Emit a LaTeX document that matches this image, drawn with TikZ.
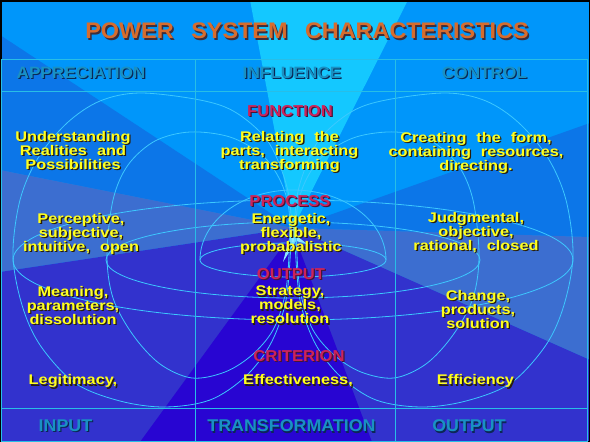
\documentclass[tikz,border=0pt]{standalone}
\usepackage{fontspec}
\setmainfont{Liberation Sans}
\newfontfamily\bodyf{Liberation Sans}[FakeStretch=1.165,WordSpace=2.2]
\newfontfamily\headf{Liberation Sans}[FakeStretch=1.05]
\newfontfamily\titf{Liberation Sans}[FakeStretch=1.04,WordSpace=2.7]
\definecolor{bgtop}{RGB}{0,150,250}
\definecolor{bgwedge}{RGB}{20,200,255}
\definecolor{bglight}{RGB}{140,230,255}
\definecolor{bgmed}{RGB}{12,118,232}
\definecolor{bgsteel}{RGB}{60,110,208}
\definecolor{bgind}{RGB}{50,50,205}
\definecolor{bgdark}{RGB}{40,5,210}
\definecolor{curvec}{RGB}{60,200,255}
\definecolor{gridc}{RGB}{40,190,230}
\definecolor{ytext}{RGB}{255,255,30}
\definecolor{yshad}{RGB}{40,30,10}
\definecolor{htext}{RGB}{25,145,195}
\definecolor{hshad}{RGB}{10,40,85}
\definecolor{ctext}{RGB}{205,35,90}
\definecolor{cshad}{RGB}{70,20,55}
\definecolor{ttext}{RGB}{215,108,45}
\definecolor{tshad}{RGB}{60,45,60}
\tikzset{
  body/.style={inner sep=0pt, align=center, font=\bodyf\bfseries\fontsize{14}{14}\selectfont, text=ytext},
  bodysh/.style={body, text=yshad, xshift=1.3pt, yshift=-1.3pt},
  head/.style={inner sep=0pt, font=\headf\bfseries\fontsize{16.4}{18}\selectfont, text=htext},
  headsh/.style={head, text=hshad, xshift=1.2pt, yshift=-1.2pt},
  foot/.style={inner sep=0pt, font=\headf\bfseries\fontsize{17}{18}\selectfont, text=htext},
  footsh/.style={foot, text=hshad, xshift=1.2pt, yshift=-1.2pt},
  lab/.style={inner sep=0pt, font=\headf\bfseries\fontsize{15.8}{18}\selectfont, text=ctext},
  labsh/.style={lab, text=cshad, xshift=1.2pt, yshift=-1.2pt},
  ttl/.style={inner sep=0pt, font=\titf\bfseries\fontsize{22.5}{24}\selectfont, text=ttext},
  ttlsh/.style={ttl, text=tshad, xshift=1.6pt, yshift=-1.6pt},
  loopline/.style={draw=curvec, line width=0.8pt},
  gridline/.style={draw=gridc, line width=1pt},
}
\newcommand\stx[5]{\node[#4] (#1sh) at (#2) {#5}; \node[#3] (#1) at (#2) {#5};}
\begin{document}
\begin{tikzpicture}[x=1pt,y=-1pt]
\useasboundingbox (0,0) rectangle (590,442);
% background rays
\fill[bgtop] (0,0) rectangle (590,442);
\fill[bgmed] (293,228) -- (0,35) -- (0,170) -- cycle;
\fill[bgsteel] (293,228) -- (0,170) -- (0,272) -- cycle;
\fill[bgmed] (293,228) -- (590,123) -- (590,237) -- cycle;
\fill[bgsteel] (293,228) -- (590,237) -- (590,360) -- cycle;
\fill[bgind] (293,228) -- (0,272) -- (0,442) -- (590,442) -- (590,360) -- cycle;
\fill[bgdark] (293,232) -- (140,442) -- (372,442) -- cycle;
\fill[bgwedge] (293,228) -- (250,0) -- (408,0) -- cycle;
\fill[bglight] (293,224) -- (297,236) -- (307,244) -- (296,241) -- (283,262) -- (289,239) -- cycle;
% loops
\newcommand\loops{%
  \draw[loopline] plot[smooth cycle, tension=0.55] coordinates {(291,215) (285,180) (267,140) (235,112) (200,100) (140,93) (100,101) (67,123) (38,158) (20,200) (13,255) (22,305) (40,345) (75,383) (120,401) (165,407) (210,400) (245,377) (270,345) (285,305) (290,260)};
  \draw[loopline] plot[smooth cycle, tension=0.55] coordinates {(289,210) (280,180) (262,155) (230,137) (190,132) (155,141) (128,165) (113,200) (107,255) (113,298) (133,335) (160,364) (192,378) (225,372) (252,355) (273,330) (285,295) (289,255)};
}
\loops
\begin{scope}[xshift=586pt, xscale=-1]
\loops
\end{scope}
\draw[loopline] (293,260) ellipse [x radius=280, y radius=60];
\draw[loopline] (293,260) ellipse [x radius=187, y radius=38];
\draw[loopline] (293,260) ellipse [x radius=93, y radius=17];
\draw[loopline] (200,260) arc [start angle=180, end angle=360, x radius=93, y radius=70];
% frame
\draw[black, line width=1.5pt] (0.75,0.75) rectangle (589.25,441.25);
\draw[gridline] (1.5,59) rectangle (587.5,441);
\draw[gridline] (1.5,91) -- (587.5,91);
\draw[gridline] (1.5,408) -- (587.5,408);
\draw[gridline] (195,59) -- (195,441);
\draw[gridline] (395,59) -- (395,441);
% title
\stx{title}{307,31}{ttl}{ttlsh}{POWER SYSTEM CHARACTERISTICS}
% headers
\stx{appr}{81,73}{head}{headsh}{APPRECIATION}
\stx{infl}{292,73}{head}{headsh}{INFLUENCE}
\stx{ctrl}{484.5,73}{head}{headsh}{CONTROL}
% labels
\stx{func}{290,111}{lab}{labsh}{FUNCTION}
\stx{proc}{290,201}{lab}{labsh}{PROCESS}
\stx{outp}{291,274}{lab}{labsh}{OUTPUT}
\stx{crit}{299,356}{lab}{labsh}{CRITERION}
% body
\stx{und}{73,150}{body}{bodysh}{Understanding\\Realities and\\Possibilities}
\stx{rel}{289.5,151.5}{body}{bodysh}{Relating the\\parts, interacting\\transforming}
\stx{cre}{476,152.5}{body}{bodysh}{Creating the form,\\containing resources,\\directing.}
\stx{per}{81,233.5}{body}{bodysh}{Perceptive,\\subjective,\\intuitive, open}
\stx{ene}{291,233.5}{body}{bodysh}{Energetic,\\flexible,\\probabalistic}
\stx{jud}{476,232.5}{body}{bodysh}{Judgmental,\\objective,\\rational, closed}
\stx{mea}{73,305}{body}{bodysh}{Meaning,\\parameters,\\dissolution}
\stx{str}{290,305}{body}{bodysh}{Strategy,\\models,\\resolution}
\stx{cha}{478,309}{body}{bodysh}{Change,\\products,\\solution}
\stx{leg}{73,381.3}{body}{bodysh}{Legitimacy,}
\stx{eff}{298,381}{body}{bodysh}{Effectiveness,}
\stx{effi}{475.5,381.3}{body}{bodysh}{Efficiency}
% footer
\stx{inp}{65.5,426}{foot}{footsh}{INPUT}
\stx{tra}{291.5,426}{foot}{footsh}{TRANSFORMATION}
\stx{out}{469,426}{foot}{footsh}{OUTPUT}
\end{tikzpicture}
\end{document}
